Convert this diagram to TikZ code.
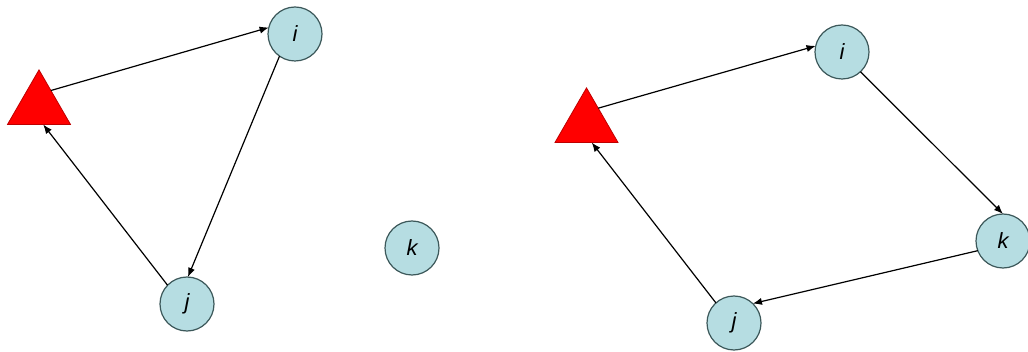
\documentclass[tikz,border=0pt]{standalone}
\usepackage{fontspec}
\setsansfont{Liberation Sans}
\usetikzlibrary{shapes.geometric,arrows.meta}
\definecolor{vfill}{RGB}{182,221,226}
\definecolor{vline}{RGB}{60,88,90}
\definecolor{rfill}{RGB}{255,0,0}
\definecolor{rline}{RGB}{190,0,0}
\tikzset{
  vert/.style={circle, draw=vline, fill=vfill, line width=0.6pt, minimum size=27pt,
    inner sep=0pt, outer sep=0pt, font=\fontsize{11}{13}\selectfont\sffamily\itshape},
  root/.style={regular polygon, regular polygon sides=3, draw=rline, fill=rfill,
    line width=0.4pt, minimum size=36.4pt, inner sep=0pt, outer sep=0pt},
  arc/.style={line width=0.6pt, -{Latex[length=4.6pt,width=3.6pt]}},
}
\begin{document}
\begin{tikzpicture}[x=0.5pt, y=-0.5pt]
\useasboundingbox (0,0) rectangle (1028,352);
% left: cycle through i and j
\node[root] (ltri) at (39,106.3) {};
\node[vert] (li) at (295,34) {i};
\node[vert] (lj) at (187,304) {j};
\node[vert] (lk) at (412,248) {k};
\draw[arc] (ltri.53) -- (li.166);
\draw[arc] (li.235) -- (lj.88);
\draw[arc] (lj.136) -- (ltri.283);
% right: cycle through i, k and j
\node[root] (rtri) at (586.5,124.3) {};
\node[vert] (ri) at (842,52) {i};
\node[vert] (rk) at (1003,241) {k};
\node[vert] (rj) at (734,323) {j};
\draw[arc] (rtri.54) -- (ri.167);
\draw[arc] (ri.313) -- (rk.90);
\draw[arc] (rk.201) -- (rj.46);
\draw[arc] (rj.132) -- (rtri.286);
\end{tikzpicture}
\end{document}
